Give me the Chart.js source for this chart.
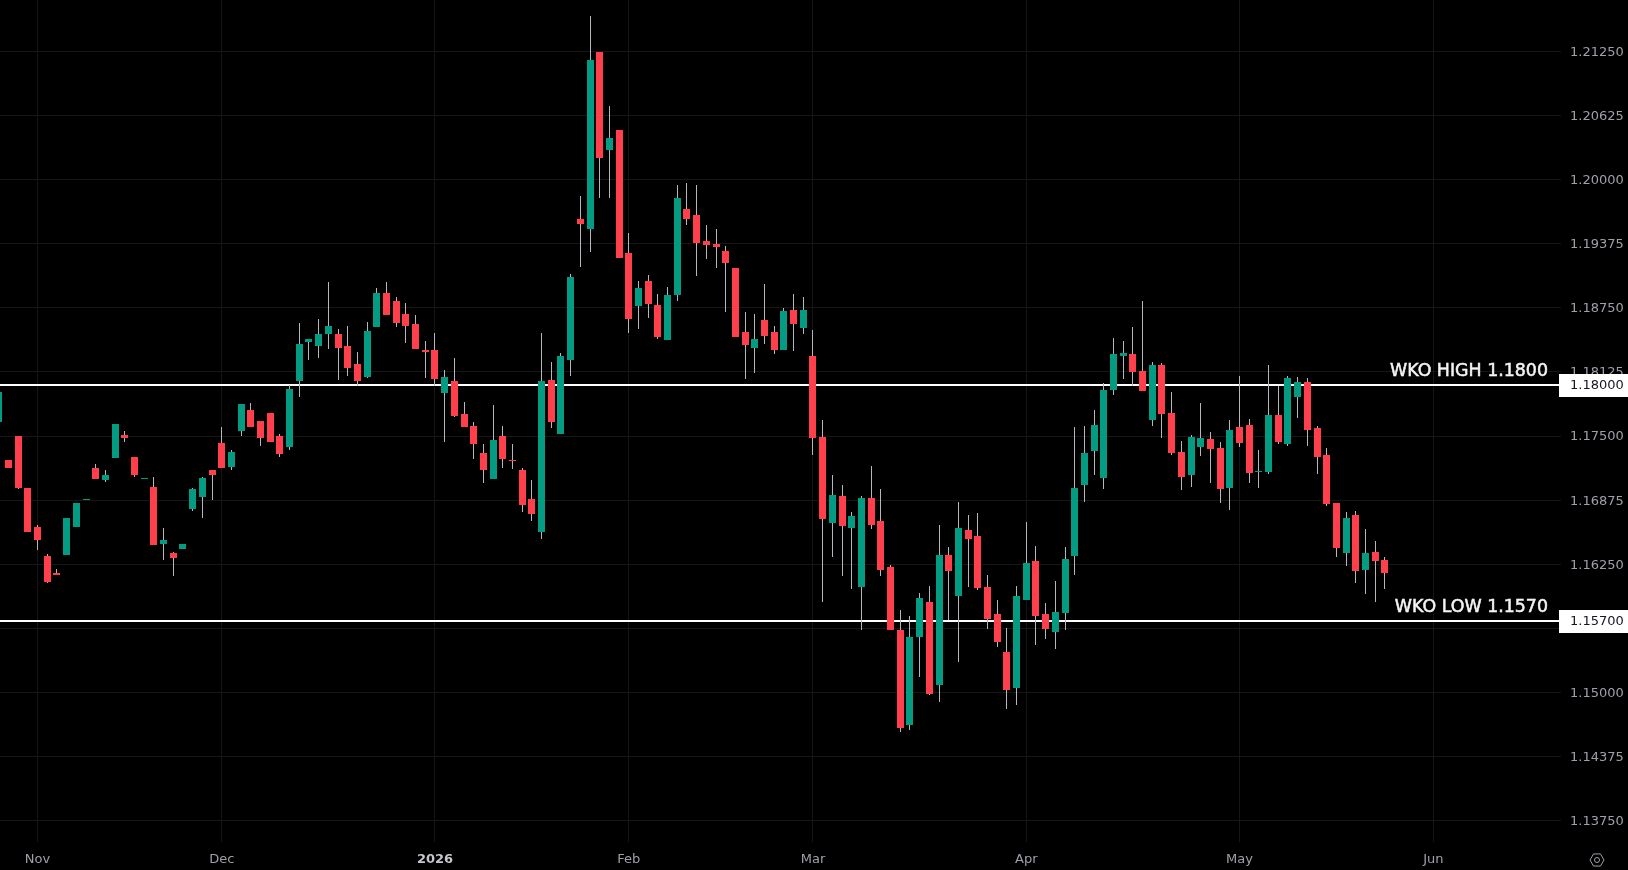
<!DOCTYPE html>
<html>
<head>
<meta charset="utf-8">
<title>EUR/USD daily</title>
<script src="https://cdn.jsdelivr.net/npm/chart.js@4"></script>
<style>
  html, body { margin: 0; padding: 0; background: #000; overflow: hidden; }
  canvas { display: block; }
</style>
</head>
<body>
<canvas id="priceChart" width="1628" height="870"></canvas>
<script>
// daily candles, oldest first
const opens = [
  1.17640,1.17269,1.17503,1.16996,1.16617,1.16334,1.16168,1.16344,1.16617,1.16880,
  1.17191,1.17074,1.17288,1.17513,1.17298,1.17084,1.17006,1.16451,1.16363,1.16402,
  1.16792,1.16909,1.17172,1.17435,1.17201,1.17552,1.17757,1.17649,1.17727,1.17503,
  1.17396,1.18039,1.18420,1.18381,1.18498,1.18498,1.18381,1.18205,1.18078,1.18566,
  1.18897,1.18819,1.18693,1.18595,1.18342,1.18342,1.17922,1.18039,1.17717,1.17601,
  1.17337,1.17084,1.17503,1.17269,1.17172,1.16890,1.16568,1.18049,1.17522,1.18244,
  1.19619,1.19521,1.21246,1.20291,1.20486,1.19287,1.18770,1.19014,1.18780,1.18439,
  1.18878,1.19716,1.19658,1.19404,1.19375,1.19307,1.19141,1.18517,1.18361,1.18634,
  1.18517,1.18342,1.18732,1.18556,1.18283,1.17493,1.16656,1.16919,1.16607,1.16032,
  1.16899,1.16675,1.16227,1.15613,1.14686,1.15545,1.15886,1.15076,1.16344,1.15944,
  1.16587,1.16529,1.16032,1.15769,1.15398,1.15047,1.15905,1.16285,1.15769,1.15593,
  1.15779,1.16334,1.17026,1.17357,1.17094,1.17951,1.18283,1.18303,1.18137,1.17659,
  1.18195,1.17727,1.17347,1.17123,1.17396,1.17474,1.17386,1.16996,1.17591,1.17610,
  1.17152,1.17152,1.17708,1.17425,1.17883,1.18029,1.17581,1.17318,1.16851,1.16363,
  1.16734,1.16197,1.16373,1.16295
];
const closes = [
  1.17932,1.17191,1.16996,1.16568,1.16490,1.16080,1.16149,1.16704,1.16851,1.16890,
  1.17084,1.17123,1.17620,1.17483,1.17123,1.17094,1.16441,1.16490,1.16314,1.16451,
  1.16986,1.17094,1.17123,1.17191,1.17347,1.17815,1.17591,1.17483,1.17445,1.17327,
  1.17961,1.18400,1.18449,1.18498,1.18576,1.18361,1.18166,1.18039,1.18527,1.18897,
  1.18683,1.18605,1.18576,1.18351,1.18322,1.18059,1.18078,1.17698,1.17591,1.17425,
  1.17172,1.17464,1.17279,1.17259,1.16831,1.16743,1.18039,1.17640,1.18283,1.19053,
  1.19570,1.21168,1.20213,1.20408,1.19238,1.18644,1.18946,1.18790,1.18469,1.18878,
  1.19823,1.19619,1.19385,1.19365,1.19346,1.19190,1.18469,1.18391,1.18449,1.18478,
  1.18342,1.18722,1.18595,1.18732,1.17483,1.16695,1.16929,1.16627,1.16724,1.16899,
  1.16636,1.16197,1.15613,1.14657,1.15545,1.15925,1.14989,1.16344,1.16188,1.16607,
  1.16500,1.16022,1.15720,1.15496,1.15028,1.15944,1.16266,1.15749,1.15623,1.15788,
  1.16305,1.16996,1.17337,1.17610,1.17951,1.18303,1.18312,1.18127,1.17941,1.18195,
  1.17717,1.17337,1.17103,1.17493,1.17483,1.17376,1.16986,1.17562,1.17435,1.17143,
  1.17162,1.17708,1.17445,1.18068,1.18029,1.17562,1.17298,1.16841,1.16412,1.16704,
  1.16188,1.16363,1.16285,1.16168
];
const highs = [
  1.17932,1.17269,1.17503,1.16996,1.16636,1.16353,1.16207,1.16704,1.16851,1.16890,
  1.17230,1.17172,1.17620,1.17552,1.17298,1.17094,1.17103,1.16607,1.16373,1.16451,
  1.16996,1.17103,1.17172,1.17591,1.17367,1.17815,1.17825,1.17649,1.17727,1.17522,
  1.18000,1.18605,1.18449,1.18644,1.19005,1.18547,1.18576,1.18322,1.18615,1.18946,
  1.19005,1.18858,1.18800,1.18683,1.18430,1.18508,1.18147,1.18264,1.17835,1.17640,
  1.17425,1.17805,1.17601,1.17425,1.17191,1.17074,1.18508,1.18225,1.18312,1.19083,
  1.19843,1.21597,1.21246,1.20720,1.20486,1.19482,1.19014,1.19073,1.18888,1.18956,
  1.19950,1.19969,1.19950,1.19560,1.19521,1.19356,1.19141,1.18712,1.18693,1.18985,
  1.18576,1.18751,1.18888,1.18858,1.18537,1.17659,1.17123,1.17026,1.16763,1.16919,
  1.17211,1.16986,1.16246,1.15808,1.15749,1.15973,1.16041,1.16636,1.16422,1.16860,
  1.16734,1.16753,1.16149,1.15905,1.15632,1.16041,1.16666,1.16432,1.15876,1.16090,
  1.16422,1.17591,1.17601,1.17757,1.18020,1.18459,1.18430,1.18566,1.18819,1.18225,
  1.18215,1.17932,1.17454,1.17513,1.17825,1.17542,1.17445,1.17659,1.18088,1.17669,
  1.17367,1.18195,1.17990,1.18088,1.18078,1.18068,1.17601,1.17386,1.16851,1.16763,
  1.16773,1.16597,1.16480,1.16324
];
const lows = [
  1.17640,1.17191,1.16986,1.16568,1.16392,1.16071,1.16149,1.16344,1.16617,1.16880,
  1.17084,1.17054,1.17288,1.17445,1.17103,1.17084,1.16441,1.16295,1.16139,1.16402,
  1.16773,1.16704,1.16880,1.17191,1.17172,1.17503,1.17591,1.17405,1.17445,1.17298,
  1.17367,1.17883,1.18244,1.18264,1.18351,1.18049,1.18088,1.17990,1.18068,1.18566,
  1.18683,1.18566,1.18410,1.18351,1.18068,1.17990,1.17445,1.17688,1.17591,1.17279,
  1.17045,1.17084,1.17191,1.17181,1.16763,1.16675,1.16500,1.17581,1.17522,1.18088,
  1.19151,1.19297,1.19823,1.19823,1.19238,1.18508,1.18547,1.18654,1.18449,1.18439,
  1.18819,1.19560,1.19063,1.19229,1.19141,1.18712,1.18469,1.18059,1.18117,1.18400,
  1.18303,1.18342,1.18332,1.18498,1.17318,1.15886,1.16324,1.16139,1.16012,1.15613,
  1.16597,1.16139,1.15613,1.14618,1.14637,1.15154,1.14979,1.14911,1.15710,1.15301,
  1.16032,1.16002,1.15623,1.15447,1.14842,1.14881,1.15905,1.15467,1.15525,1.15427,
  1.15613,1.16149,1.16860,1.17123,1.16986,1.17903,1.18059,1.17990,1.17941,1.17601,
  1.17483,1.17318,1.16977,1.17006,1.17308,1.17045,1.16851,1.16782,1.17396,1.17045,
  1.16996,1.17133,1.17425,1.17405,1.17679,1.17405,1.17133,1.16821,1.16324,1.16236,
  1.16071,1.15964,1.15886,1.16012
];

// bar index where each month starts, and what the time axis prints there
const monthBars = [4, 23, 45, 65, 84, 106, 128, 148];
const monthLabels = ['Nov', 'Dec', '2026', 'Feb', 'Mar', 'Apr', 'May', 'Jun'];

const priceTicks = [
  1.1375, 1.14375, 1.15, 1.15625, 1.1625, 1.16875, 1.175,
  1.18125, 1.1875, 1.19375, 1.2, 1.20625, 1.2125
];

const levelValues = [1.18, 1.157];
const levelLabels = ['WKO HIGH 1.1800', 'WKO LOW 1.1570'];

const UP = '#049b83', DOWN = '#ff3f4c', WICK = '#b4b7bd', GRID = '#161616', AXIS_TEXT = '#9da0a8';
const AXIS_FONT = '13px "DejaVu Sans"';

const bars = opens.map((o, i) => i);
const bodyColors = opens.map((o, i) => closes[i] >= o ? UP : DOWN);

// chart.js does not round bars, so put them on whole pixels to keep the edges crisp
const snapBars = {
  id: 'snapBars',
  afterDatasetsUpdate(chart) {
    chart.data.datasets.forEach((ds, d) => {
      chart.getDatasetMeta(d).data.forEach(el => {
        el.x = Math.floor(el.x) + 0.5;
        el.y = Math.round(el.y);
        el.base = Math.round(el.base);
        if (el.y === el.base) el.base = el.y + 1;
      });
    });
  }
};

// horizontal levels sit under the candles, their tags over everything
const levels = {
  id: 'levels',
  beforeDatasetsDraw(chart) {
    const { ctx, chartArea, scales } = chart;
    ctx.save();
    ctx.fillStyle = '#fff';
    levelValues.forEach(v => {
      const y = Math.round(scales.y.getPixelForValue(v));
      ctx.fillRect(0, y - 1, chartArea.right - 2, 2);
    });
    ctx.restore();
  },
  afterDraw(chart) {
    const { ctx, chartArea, scales, width } = chart;
    ctx.save();
    levelValues.forEach((v, i) => {
      const y = Math.round(scales.y.getPixelForValue(v));
      ctx.fillStyle = '#fff';
      ctx.fillRect(chartArea.right - 2, y - 11, width - chartArea.right + 2, 23);
      ctx.font = AXIS_FONT;
      ctx.fillStyle = '#131722';
      ctx.textAlign = 'left';
      ctx.textBaseline = 'middle';
      ctx.fillText(v.toFixed(5), chartArea.right + 9, y + 1);

      // regular weight plus a thin outline gives the medium look of the tags
      ctx.font = '17.4px "DejaVu Sans"';
      ctx.fillStyle = '#f4f4f4';
      ctx.strokeStyle = '#f4f4f4';
      ctx.lineWidth = 0.5;
      ctx.textAlign = 'right';
      ctx.textBaseline = 'alphabetic';
      ctx.fillText(levelLabels[i], chartArea.right - 13, y - 9);
      ctx.strokeText(levelLabels[i], chartArea.right - 13, y - 9);
    });

    // settings glyph in the axis corner
    const cx = width - 31, cy = chart.height - 10, r = 7;
    ctx.strokeStyle = AXIS_TEXT;
    ctx.lineWidth = 1;
    ctx.beginPath();
    for (let a = 0; a < 6; a++) {
      const t = Math.PI / 3 * a;
      ctx.lineTo(cx + r * Math.cos(t), cy + r * Math.sin(t));
    }
    ctx.closePath();
    ctx.moveTo(cx + 2.5, cy);
    ctx.arc(cx, cy, 2.5, 0, Math.PI * 2);
    ctx.stroke();
    ctx.restore();
  }
};

const isYearTick = ctx => ctx.tick && ctx.tick.value === monthBars[2];

new Chart(document.getElementById('priceChart'), {
  type: 'bar',
  data: {
    datasets: [
      {
        label: 'Body',
        data: bars.map(i => ({ x: i, y: [opens[i], closes[i]] })),
        backgroundColor: bodyColors,
        barThickness: 7,
        grouped: false,
        borderWidth: 0,
        inflateAmount: 0
      },
      {
        label: 'Wick',
        data: bars.map(i => ({ x: i, y: [lows[i], highs[i]] })),
        backgroundColor: WICK,
        barThickness: 1,
        grouped: false,
        borderWidth: 0,
        inflateAmount: 0
      }
    ]
  },
  options: {
    responsive: false,
    animation: false,
    devicePixelRatio: 1,
    layout: { padding: 0 },
    plugins: { legend: { display: false }, tooltip: { enabled: false } },
    events: [],
    scales: {
      x: {
        type: 'linear',
        offset: false,
        min: 0.125,
        max: 161.17,
        grid: { color: GRID, offset: false, drawTicks: false },
        border: { display: false },
        afterBuildTicks(axis) { axis.ticks = monthBars.map(v => ({ value: v })); },
        afterFit(axis) {
          axis.height = 28;
          axis.paddingLeft = axis.paddingRight = 0;
        },
        ticks: {
          autoSkip: false,
          maxRotation: 0,
          minRotation: 0,
          padding: 10,
          callback: v => monthLabels[monthBars.indexOf(v)],
          color: ctx => isYearTick(ctx) ? '#c4c6cc' : AXIS_TEXT,
          font: ctx => isYearTick(ctx)
            ? { family: 'DejaVu Sans', size: 13, weight: 'bold' }
            : { family: 'DejaVu Sans', size: 13 }
        }
      },
      y: {
        position: 'right',
        min: 1.13544,
        max: 1.21750,
        grid: { color: GRID, drawTicks: false },
        border: { display: false },
        afterBuildTicks(axis) { axis.ticks = priceTicks.map(v => ({ value: v })); },
        afterFit(axis) {
          axis.width = 67;
          axis.paddingTop = axis.paddingBottom = 0;
        },
        ticks: {
          padding: 9,
          labelOffset: 1,
          color: AXIS_TEXT,
          font: { family: 'DejaVu Sans', size: 13 },
          callback: v => v.toFixed(5)
        }
      }
    }
  },
  plugins: [snapBars, levels]
});
</script>
</body>
</html>
